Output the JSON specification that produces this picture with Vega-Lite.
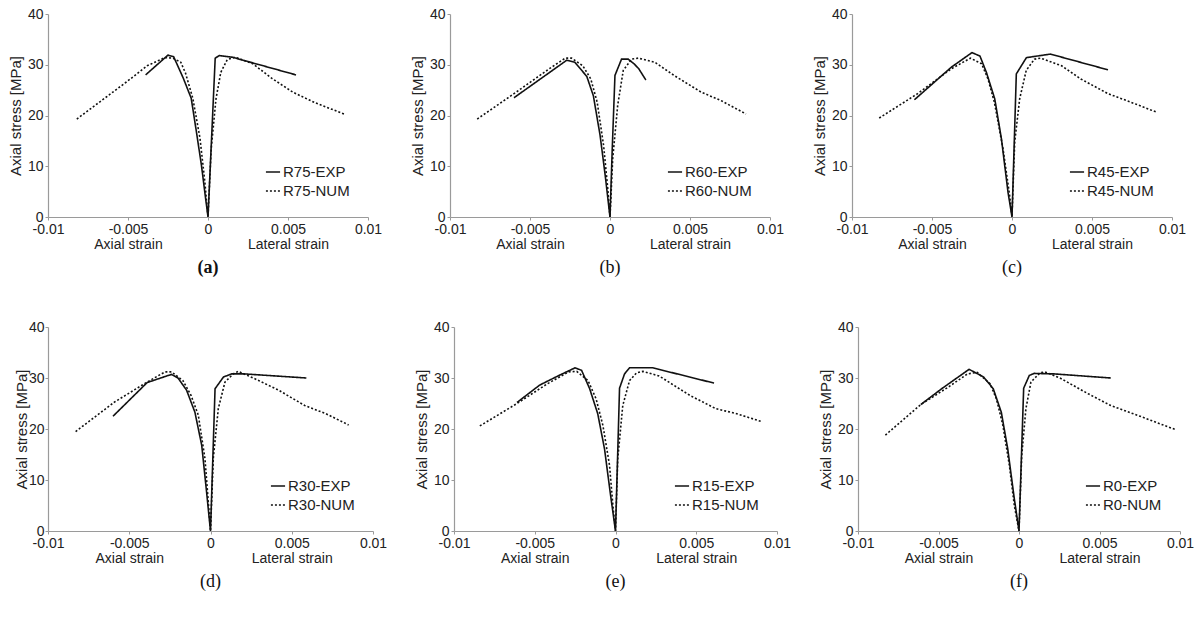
{
  "$schema": "https://vega.github.io/schema/vega-lite/v6.json",
  "padding": {"left": 8, "top": 7, "right": 5, "bottom": 5},
  "background": "white",
  "config": {
    "font": "Liberation Sans",
    "view": {"stroke": null},
    "axis": {
      "grid": false,
      "domainColor": "#9a9a9a",
      "domainWidth": 1.2,
      "tickColor": "#9a9a9a",
      "tickSize": 3,
      "labelColor": "#222222",
      "labelFontSize": 14,
      "labelPadding": 2,
      "labelOverlap": false,
      "labelFlush": false,
      "titleColor": "#222222",
      "titleFontSize": 15,
      "titleFontWeight": "normal"
    },
    "axisY": {"titlePadding": 4},
    "axisX": {"labelLineHeight": 15},
    "legend": {
      "title": null,
      "orient": "bottom-right",
      "offset": 18,
      "symbolType": "stroke",
      "symbolSize": 200,
      "symbolStrokeWidth": 1.6,
      "symbolStrokeColor": "#111111",
      "labelFontSize": 15,
      "labelColor": "#222222",
      "labelOffset": 2,
      "rowPadding": 3
    },
    "title": {
      "orient": "bottom",
      "anchor": "middle",
      "font": "Liberation Serif",
      "fontSize": 18,
      "fontWeight": "normal",
      "color": "#111111",
      "offset": 8
    }
  },
  "data": {
    "values": [
      {"p": "a", "s": "R75-EXP", "x": -0.0039, "y": 28.0},
      {"p": "a", "s": "R75-EXP", "x": -0.0025, "y": 31.9},
      {"p": "a", "s": "R75-EXP", "x": -0.00215, "y": 31.6},
      {"p": "a", "s": "R75-EXP", "x": -0.00155, "y": 27.4},
      {"p": "a", "s": "R75-EXP", "x": -0.00105, "y": 23.4},
      {"p": "a", "s": "R75-EXP", "x": -0.00072, "y": 16.7},
      {"p": "a", "s": "R75-EXP", "x": -0.00041, "y": 10.2},
      {"p": "a", "s": "R75-EXP", "x": -0.0002, "y": 4.9},
      {"p": "a", "s": "R75-EXP", "x": 0, "y": 0},
      {"p": "a", "s": "R75-EXP", "x": 0.00045, "y": 31.3},
      {"p": "a", "s": "R75-EXP", "x": 0.0007, "y": 31.8},
      {"p": "a", "s": "R75-EXP", "x": 0.0015, "y": 31.5},
      {"p": "a", "s": "R75-EXP", "x": 0.0055, "y": 28.0},

      {"p": "a", "s": "R75-NUM", "x": -0.0082, "y": 19.3},
      {"p": "a", "s": "R75-NUM", "x": -0.0051, "y": 26.6},
      {"p": "a", "s": "R75-NUM", "x": -0.0038, "y": 29.8},
      {"p": "a", "s": "R75-NUM", "x": -0.0027, "y": 31.4},
      {"p": "a", "s": "R75-NUM", "x": -0.0022, "y": 31.3},
      {"p": "a", "s": "R75-NUM", "x": -0.0017, "y": 30.5},
      {"p": "a", "s": "R75-NUM", "x": -0.0014, "y": 28.3},
      {"p": "a", "s": "R75-NUM", "x": -0.00095, "y": 23.4},
      {"p": "a", "s": "R75-NUM", "x": -0.0005, "y": 15.5},
      {"p": "a", "s": "R75-NUM", "x": -0.0002, "y": 7.0},
      {"p": "a", "s": "R75-NUM", "x": 0, "y": 0},
      {"p": "a", "s": "R75-NUM", "x": 0.0002, "y": 13.4},
      {"p": "a", "s": "R75-NUM", "x": 0.0005, "y": 23.3},
      {"p": "a", "s": "R75-NUM", "x": 0.0008, "y": 28.5},
      {"p": "a", "s": "R75-NUM", "x": 0.0012, "y": 31.0},
      {"p": "a", "s": "R75-NUM", "x": 0.0017, "y": 31.5},
      {"p": "a", "s": "R75-NUM", "x": 0.0028, "y": 30.2},
      {"p": "a", "s": "R75-NUM", "x": 0.004, "y": 27.3},
      {"p": "a", "s": "R75-NUM", "x": 0.0053, "y": 24.6},
      {"p": "a", "s": "R75-NUM", "x": 0.0067, "y": 22.5},
      {"p": "a", "s": "R75-NUM", "x": 0.0085, "y": 20.3},

      {"p": "b", "s": "R60-EXP", "x": -0.006, "y": 23.5},
      {"p": "b", "s": "R60-EXP", "x": -0.0027, "y": 30.9},
      {"p": "b", "s": "R60-EXP", "x": -0.0022, "y": 30.5},
      {"p": "b", "s": "R60-EXP", "x": -0.00145, "y": 27.7},
      {"p": "b", "s": "R60-EXP", "x": -0.00104, "y": 23.9},
      {"p": "b", "s": "R60-EXP", "x": -0.00062, "y": 16.1},
      {"p": "b", "s": "R60-EXP", "x": -0.0003, "y": 8.2},
      {"p": "b", "s": "R60-EXP", "x": 0, "y": 0},
      {"p": "b", "s": "R60-EXP", "x": 0.00014, "y": 13.4},
      {"p": "b", "s": "R60-EXP", "x": 0.00031, "y": 27.9},
      {"p": "b", "s": "R60-EXP", "x": 0.00072, "y": 31.1},
      {"p": "b", "s": "R60-EXP", "x": 0.00114, "y": 31.1},
      {"p": "b", "s": "R60-EXP", "x": 0.0015, "y": 30.2},
      {"p": "b", "s": "R60-EXP", "x": 0.0018, "y": 29.2},
      {"p": "b", "s": "R60-EXP", "x": 0.00224, "y": 27.0},

      {"p": "b", "s": "R60-NUM", "x": -0.0083, "y": 19.3},
      {"p": "b", "s": "R60-NUM", "x": -0.006, "y": 24.3},
      {"p": "b", "s": "R60-NUM", "x": -0.0038, "y": 29.2},
      {"p": "b", "s": "R60-NUM", "x": -0.0028, "y": 31.3},
      {"p": "b", "s": "R60-NUM", "x": -0.0024, "y": 31.3},
      {"p": "b", "s": "R60-NUM", "x": -0.0017, "y": 29.8},
      {"p": "b", "s": "R60-NUM", "x": -0.0012, "y": 27.2},
      {"p": "b", "s": "R60-NUM", "x": -0.0008, "y": 22.6},
      {"p": "b", "s": "R60-NUM", "x": -0.0004, "y": 14.1},
      {"p": "b", "s": "R60-NUM", "x": -0.00014, "y": 5.6},
      {"p": "b", "s": "R60-NUM", "x": 0, "y": 0},
      {"p": "b", "s": "R60-NUM", "x": 0.00017, "y": 11.5},
      {"p": "b", "s": "R60-NUM", "x": 0.00048, "y": 22.0},
      {"p": "b", "s": "R60-NUM", "x": 0.00083, "y": 28.9},
      {"p": "b", "s": "R60-NUM", "x": 0.00135, "y": 31.1},
      {"p": "b", "s": "R60-NUM", "x": 0.00176, "y": 31.3},
      {"p": "b", "s": "R60-NUM", "x": 0.0028, "y": 30.5},
      {"p": "b", "s": "R60-NUM", "x": 0.004, "y": 27.9},
      {"p": "b", "s": "R60-NUM", "x": 0.0057, "y": 24.6},
      {"p": "b", "s": "R60-NUM", "x": 0.0069, "y": 23.0},
      {"p": "b", "s": "R60-NUM", "x": 0.0085, "y": 20.3},

      {"p": "c", "s": "R45-EXP", "x": -0.0061, "y": 23.1},
      {"p": "c", "s": "R45-EXP", "x": -0.0038, "y": 29.5},
      {"p": "c", "s": "R45-EXP", "x": -0.0025, "y": 32.4},
      {"p": "c", "s": "R45-EXP", "x": -0.002, "y": 31.7},
      {"p": "c", "s": "R45-EXP", "x": -0.0016, "y": 28.5},
      {"p": "c", "s": "R45-EXP", "x": -0.00108, "y": 23.3},
      {"p": "c", "s": "R45-EXP", "x": -0.00066, "y": 15.4},
      {"p": "c", "s": "R45-EXP", "x": -0.00025, "y": 4.9},
      {"p": "c", "s": "R45-EXP", "x": 0, "y": 0},
      {"p": "c", "s": "R45-EXP", "x": 0.00027, "y": 28.2},
      {"p": "c", "s": "R45-EXP", "x": 0.0009, "y": 31.4},
      {"p": "c", "s": "R45-EXP", "x": 0.0024, "y": 32.1},
      {"p": "c", "s": "R45-EXP", "x": 0.006, "y": 29.0},

      {"p": "c", "s": "R45-NUM", "x": -0.0083, "y": 19.5},
      {"p": "c", "s": "R45-NUM", "x": -0.0059, "y": 24.3},
      {"p": "c", "s": "R45-NUM", "x": -0.0038, "y": 29.2},
      {"p": "c", "s": "R45-NUM", "x": -0.0026, "y": 31.3},
      {"p": "c", "s": "R45-NUM", "x": -0.0019, "y": 30.2},
      {"p": "c", "s": "R45-NUM", "x": -0.0015, "y": 27.2},
      {"p": "c", "s": "R45-NUM", "x": -0.0011, "y": 22.6},
      {"p": "c", "s": "R45-NUM", "x": -0.00056, "y": 13.4},
      {"p": "c", "s": "R45-NUM", "x": -0.00015, "y": 4.3},
      {"p": "c", "s": "R45-NUM", "x": 0, "y": 0},
      {"p": "c", "s": "R45-NUM", "x": 0.00017, "y": 14.8},
      {"p": "c", "s": "R45-NUM", "x": 0.00048, "y": 23.3},
      {"p": "c", "s": "R45-NUM", "x": 0.00089, "y": 28.9},
      {"p": "c", "s": "R45-NUM", "x": 0.0014, "y": 31.1},
      {"p": "c", "s": "R45-NUM", "x": 0.0018, "y": 31.3},
      {"p": "c", "s": "R45-NUM", "x": 0.0031, "y": 29.8},
      {"p": "c", "s": "R45-NUM", "x": 0.0043, "y": 27.2},
      {"p": "c", "s": "R45-NUM", "x": 0.006, "y": 24.3},
      {"p": "c", "s": "R45-NUM", "x": 0.0072, "y": 22.9},
      {"p": "c", "s": "R45-NUM", "x": 0.009, "y": 20.7},

      {"p": "d", "s": "R30-EXP", "x": -0.006, "y": 22.5},
      {"p": "d", "s": "R30-EXP", "x": -0.0039, "y": 29.1},
      {"p": "d", "s": "R30-EXP", "x": -0.0026, "y": 30.5},
      {"p": "d", "s": "R30-EXP", "x": -0.0024, "y": 30.7},
      {"p": "d", "s": "R30-EXP", "x": -0.002, "y": 30.0},
      {"p": "d", "s": "R30-EXP", "x": -0.00147, "y": 27.6},
      {"p": "d", "s": "R30-EXP", "x": -0.00096, "y": 23.3},
      {"p": "d", "s": "R30-EXP", "x": -0.00054, "y": 16.8},
      {"p": "d", "s": "R30-EXP", "x": -0.00024, "y": 7.6},
      {"p": "d", "s": "R30-EXP", "x": 0, "y": 0},
      {"p": "d", "s": "R30-EXP", "x": 0.00028, "y": 27.9},
      {"p": "d", "s": "R30-EXP", "x": 0.0008, "y": 30.2},
      {"p": "d", "s": "R30-EXP", "x": 0.0013, "y": 30.8},
      {"p": "d", "s": "R30-EXP", "x": 0.0021, "y": 30.8},
      {"p": "d", "s": "R30-EXP", "x": 0.0059, "y": 30.0},

      {"p": "d", "s": "R30-NUM", "x": -0.0083, "y": 19.5},
      {"p": "d", "s": "R30-NUM", "x": -0.0059, "y": 25.3},
      {"p": "d", "s": "R30-NUM", "x": -0.0039, "y": 29.2},
      {"p": "d", "s": "R30-NUM", "x": -0.0028, "y": 31.2},
      {"p": "d", "s": "R30-NUM", "x": -0.0024, "y": 31.2},
      {"p": "d", "s": "R30-NUM", "x": -0.0017, "y": 29.5},
      {"p": "d", "s": "R30-NUM", "x": -0.0012, "y": 26.6},
      {"p": "d", "s": "R30-NUM", "x": -0.00075, "y": 22.7},
      {"p": "d", "s": "R30-NUM", "x": -0.00034, "y": 14.2},
      {"p": "d", "s": "R30-NUM", "x": -0.00012, "y": 5.0},
      {"p": "d", "s": "R30-NUM", "x": 0, "y": 0},
      {"p": "d", "s": "R30-NUM", "x": 0.00017, "y": 14.2},
      {"p": "d", "s": "R30-NUM", "x": 0.00048, "y": 24.0},
      {"p": "d", "s": "R30-NUM", "x": 0.00089, "y": 29.2},
      {"p": "d", "s": "R30-NUM", "x": 0.0014, "y": 30.8},
      {"p": "d", "s": "R30-NUM", "x": 0.0017, "y": 31.3},
      {"p": "d", "s": "R30-NUM", "x": 0.0027, "y": 29.9},
      {"p": "d", "s": "R30-NUM", "x": 0.0042, "y": 27.6},
      {"p": "d", "s": "R30-NUM", "x": 0.0058, "y": 24.6},
      {"p": "d", "s": "R30-NUM", "x": 0.0071, "y": 23.0},
      {"p": "d", "s": "R30-NUM", "x": 0.0085, "y": 20.8},

      {"p": "e", "s": "R15-EXP", "x": -0.0061, "y": 25.2},
      {"p": "e", "s": "R15-EXP", "x": -0.0047, "y": 28.6},
      {"p": "e", "s": "R15-EXP", "x": -0.0035, "y": 30.5},
      {"p": "e", "s": "R15-EXP", "x": -0.0025, "y": 32.0},
      {"p": "e", "s": "R15-EXP", "x": -0.0021, "y": 31.5},
      {"p": "e", "s": "R15-EXP", "x": -0.0016, "y": 27.9},
      {"p": "e", "s": "R15-EXP", "x": -0.0011, "y": 23.0},
      {"p": "e", "s": "R15-EXP", "x": -0.00068, "y": 16.1},
      {"p": "e", "s": "R15-EXP", "x": -0.00033, "y": 7.6},
      {"p": "e", "s": "R15-EXP", "x": 0, "y": 0},
      {"p": "e", "s": "R15-EXP", "x": 0.00025, "y": 28.0},
      {"p": "e", "s": "R15-EXP", "x": 0.00056, "y": 30.8},
      {"p": "e", "s": "R15-EXP", "x": 0.00087, "y": 32.0},
      {"p": "e", "s": "R15-EXP", "x": 0.0023, "y": 32.0},
      {"p": "e", "s": "R15-EXP", "x": 0.0061, "y": 29.0},

      {"p": "e", "s": "R15-NUM", "x": -0.0084, "y": 20.6},
      {"p": "e", "s": "R15-NUM", "x": -0.0061, "y": 25.0},
      {"p": "e", "s": "R15-NUM", "x": -0.0042, "y": 28.9},
      {"p": "e", "s": "R15-NUM", "x": -0.0029, "y": 31.2},
      {"p": "e", "s": "R15-NUM", "x": -0.0024, "y": 31.3},
      {"p": "e", "s": "R15-NUM", "x": -0.0017, "y": 29.5},
      {"p": "e", "s": "R15-NUM", "x": -0.0012, "y": 25.9},
      {"p": "e", "s": "R15-NUM", "x": -0.00078, "y": 20.7},
      {"p": "e", "s": "R15-NUM", "x": -0.00037, "y": 12.9},
      {"p": "e", "s": "R15-NUM", "x": -0.00016, "y": 5.0},
      {"p": "e", "s": "R15-NUM", "x": 0, "y": 0},
      {"p": "e", "s": "R15-NUM", "x": 0.00014, "y": 14.2},
      {"p": "e", "s": "R15-NUM", "x": 0.00045, "y": 24.6},
      {"p": "e", "s": "R15-NUM", "x": 0.00087, "y": 29.5},
      {"p": "e", "s": "R15-NUM", "x": 0.0013, "y": 31.0},
      {"p": "e", "s": "R15-NUM", "x": 0.0017, "y": 31.3},
      {"p": "e", "s": "R15-NUM", "x": 0.0027, "y": 30.4},
      {"p": "e", "s": "R15-NUM", "x": 0.0046, "y": 26.6},
      {"p": "e", "s": "R15-NUM", "x": 0.0062, "y": 24.0},
      {"p": "e", "s": "R15-NUM", "x": 0.0075, "y": 23.0},
      {"p": "e", "s": "R15-NUM", "x": 0.0091, "y": 21.4},

      {"p": "f", "s": "R0-EXP", "x": -0.0061, "y": 24.8},
      {"p": "f", "s": "R0-EXP", "x": -0.0048, "y": 27.9},
      {"p": "f", "s": "R0-EXP", "x": -0.0031, "y": 31.7},
      {"p": "f", "s": "R0-EXP", "x": -0.0022, "y": 30.2},
      {"p": "f", "s": "R0-EXP", "x": -0.0016, "y": 27.9},
      {"p": "f", "s": "R0-EXP", "x": -0.0011, "y": 23.3},
      {"p": "f", "s": "R0-EXP", "x": -0.0007, "y": 16.1},
      {"p": "f", "s": "R0-EXP", "x": -0.00029, "y": 6.3},
      {"p": "f", "s": "R0-EXP", "x": 0, "y": 0},
      {"p": "f", "s": "R0-EXP", "x": 0.00029, "y": 28.0},
      {"p": "f", "s": "R0-EXP", "x": 0.00064, "y": 30.5},
      {"p": "f", "s": "R0-EXP", "x": 0.00095, "y": 30.9},
      {"p": "f", "s": "R0-EXP", "x": 0.0022, "y": 30.8},
      {"p": "f", "s": "R0-EXP", "x": 0.0057, "y": 30.0},

      {"p": "f", "s": "R0-NUM", "x": -0.0083, "y": 18.8},
      {"p": "f", "s": "R0-NUM", "x": -0.0061, "y": 24.8},
      {"p": "f", "s": "R0-NUM", "x": -0.0044, "y": 28.2},
      {"p": "f", "s": "R0-NUM", "x": -0.0032, "y": 30.8},
      {"p": "f", "s": "R0-NUM", "x": -0.0026, "y": 31.1},
      {"p": "f", "s": "R0-NUM", "x": -0.0018, "y": 28.9},
      {"p": "f", "s": "R0-NUM", "x": -0.0014, "y": 25.9},
      {"p": "f", "s": "R0-NUM", "x": -0.001, "y": 20.7},
      {"p": "f", "s": "R0-NUM", "x": -0.0006, "y": 12.9},
      {"p": "f", "s": "R0-NUM", "x": -0.00029, "y": 5.0},
      {"p": "f", "s": "R0-NUM", "x": 0, "y": 0},
      {"p": "f", "s": "R0-NUM", "x": 0.00017, "y": 14.8},
      {"p": "f", "s": "R0-NUM", "x": 0.00043, "y": 24.0},
      {"p": "f", "s": "R0-NUM", "x": 0.00074, "y": 29.2},
      {"p": "f", "s": "R0-NUM", "x": 0.0013, "y": 31.0},
      {"p": "f", "s": "R0-NUM", "x": 0.0016, "y": 31.2},
      {"p": "f", "s": "R0-NUM", "x": 0.0026, "y": 29.9},
      {"p": "f", "s": "R0-NUM", "x": 0.0043, "y": 26.9},
      {"p": "f", "s": "R0-NUM", "x": 0.0057, "y": 24.6},
      {"p": "f", "s": "R0-NUM", "x": 0.0076, "y": 22.4},
      {"p": "f", "s": "R0-NUM", "x": 0.0097, "y": 19.9}
    ]
  },
  "bounds": "full",
  "spacing": 43,
  "resolve": {"scale": {"strokeDash": "independent"}, "legend": {"strokeDash": "independent"}},
  "vconcat": [
    {
      "bounds": "flush",
      "spacing": 82,
      "resolve": {"scale": {"strokeDash": "independent"}, "legend": {"strokeDash": "independent"}},
      "hconcat": [
        {
          "width": 320, "height": 203,
          "title": {"text": "(a)", "fontWeight": "bold"},
          "transform": [{"filter": "datum.p == 'a'"}],
          "mark": {"type": "line", "color": "#111111", "strokeWidth": 1.6},
          "encoding": {
            "x": {"field": "x", "type": "quantitative", "scale": {"domain": [-0.01, 0.01], "nice": false},
                  "axis": {"title": null, "values": [-0.01, -0.005, 0, 0.005, 0.01],
                           "labelExpr": "datum.value == -0.005 ? ['-0.005', 'Axial strain'] : datum.value == 0.005 ? ['0.005', 'Lateral strain'] : '' + datum.value"}},
            "y": {"field": "y", "type": "quantitative", "scale": {"domain": [0, 40], "nice": false},
                  "axis": {"title": "Axial stress [MPa]", "values": [0, 10, 20, 30, 40]}},
            "strokeDash": {"field": "s", "type": "nominal",
                           "scale": {"domain": ["R75-EXP", "R75-NUM"], "range": [[1, 0], [2, 2]]}}
          }
        },
        {
          "width": 320, "height": 203,
          "title": {"text": "(b)"},
          "transform": [{"filter": "datum.p == 'b'"}],
          "mark": {"type": "line", "color": "#111111", "strokeWidth": 1.6},
          "encoding": {
            "x": {"field": "x", "type": "quantitative", "scale": {"domain": [-0.01, 0.01], "nice": false},
                  "axis": {"title": null, "values": [-0.01, -0.005, 0, 0.005, 0.01],
                           "labelExpr": "datum.value == -0.005 ? ['-0.005', 'Axial strain'] : datum.value == 0.005 ? ['0.005', 'Lateral strain'] : '' + datum.value"}},
            "y": {"field": "y", "type": "quantitative", "scale": {"domain": [0, 40], "nice": false},
                  "axis": {"title": "Axial stress [MPa]", "values": [0, 10, 20, 30, 40]}},
            "strokeDash": {"field": "s", "type": "nominal",
                           "scale": {"domain": ["R60-EXP", "R60-NUM"], "range": [[1, 0], [2, 2]]}}
          }
        },
        {
          "width": 320, "height": 203,
          "title": {"text": "(c)"},
          "transform": [{"filter": "datum.p == 'c'"}],
          "mark": {"type": "line", "color": "#111111", "strokeWidth": 1.6},
          "encoding": {
            "x": {"field": "x", "type": "quantitative", "scale": {"domain": [-0.01, 0.01], "nice": false},
                  "axis": {"title": null, "values": [-0.01, -0.005, 0, 0.005, 0.01],
                           "labelExpr": "datum.value == -0.005 ? ['-0.005', 'Axial strain'] : datum.value == 0.005 ? ['0.005', 'Lateral strain'] : '' + datum.value"}},
            "y": {"field": "y", "type": "quantitative", "scale": {"domain": [0, 40], "nice": false},
                  "axis": {"title": "Axial stress [MPa]", "values": [0, 10, 20, 30, 40]}},
            "strokeDash": {"field": "s", "type": "nominal",
                           "scale": {"domain": ["R45-EXP", "R45-NUM"], "range": [[1, 0], [2, 2]]}}
          }
        }
      ]
    },
    {
      "bounds": "flush",
      "spacing": 81,
      "resolve": {"scale": {"strokeDash": "independent"}, "legend": {"strokeDash": "independent"}},
      "hconcat": [
        {
          "width": 325, "height": 204,
          "title": {"text": "(d)"},
          "transform": [{"filter": "datum.p == 'd'"}],
          "mark": {"type": "line", "color": "#111111", "strokeWidth": 1.6},
          "encoding": {
            "x": {"field": "x", "type": "quantitative", "scale": {"domain": [-0.01, 0.01], "nice": false},
                  "axis": {"title": null, "values": [-0.01, -0.005, 0, 0.005, 0.01],
                           "labelExpr": "datum.value == -0.005 ? ['-0.005', 'Axial strain'] : datum.value == 0.005 ? ['0.005', 'Lateral strain'] : '' + datum.value"}},
            "y": {"field": "y", "type": "quantitative", "scale": {"domain": [0, 40], "nice": false},
                  "axis": {"title": "Axial stress [MPa]", "values": [0, 10, 20, 30, 40], "titlePadding": -1, "labelPadding": 1}},
            "strokeDash": {"field": "s", "type": "nominal",
                           "scale": {"domain": ["R30-EXP", "R30-NUM"], "range": [[1, 0], [2, 2]]}}
          }
        },
        {
          "width": 323, "height": 204,
          "title": {"text": "(e)"},
          "transform": [{"filter": "datum.p == 'e'"}],
          "mark": {"type": "line", "color": "#111111", "strokeWidth": 1.6},
          "encoding": {
            "x": {"field": "x", "type": "quantitative", "scale": {"domain": [-0.01, 0.01], "nice": false},
                  "axis": {"title": null, "values": [-0.01, -0.005, 0, 0.005, 0.01],
                           "labelExpr": "datum.value == -0.005 ? ['-0.005', 'Axial strain'] : datum.value == 0.005 ? ['0.005', 'Lateral strain'] : '' + datum.value"}},
            "y": {"field": "y", "type": "quantitative", "scale": {"domain": [0, 40], "nice": false},
                  "axis": {"title": "Axial stress [MPa]", "values": [0, 10, 20, 30, 40]}},
            "strokeDash": {"field": "s", "type": "nominal",
                           "scale": {"domain": ["R15-EXP", "R15-NUM"], "range": [[1, 0], [2, 2]]}}
          }
        },
        {
          "width": 322, "height": 204,
          "title": {"text": "(f)"},
          "transform": [{"filter": "datum.p == 'f'"}],
          "mark": {"type": "line", "color": "#111111", "strokeWidth": 1.6},
          "encoding": {
            "x": {"field": "x", "type": "quantitative", "scale": {"domain": [-0.01, 0.01], "nice": false},
                  "axis": {"title": null, "values": [-0.01, -0.005, 0, 0.005, 0.01],
                           "labelExpr": "datum.value == -0.005 ? ['-0.005', 'Axial strain'] : datum.value == 0.005 ? ['0.005', 'Lateral strain'] : '' + datum.value"}},
            "y": {"field": "y", "type": "quantitative", "scale": {"domain": [0, 40], "nice": false},
                  "axis": {"title": "Axial stress [MPa]", "values": [0, 10, 20, 30, 40]}},
            "strokeDash": {"field": "s", "type": "nominal",
                           "scale": {"domain": ["R0-EXP", "R0-NUM"], "range": [[1, 0], [2, 2]]}}
          }
        }
      ]
    }
  ]
}
